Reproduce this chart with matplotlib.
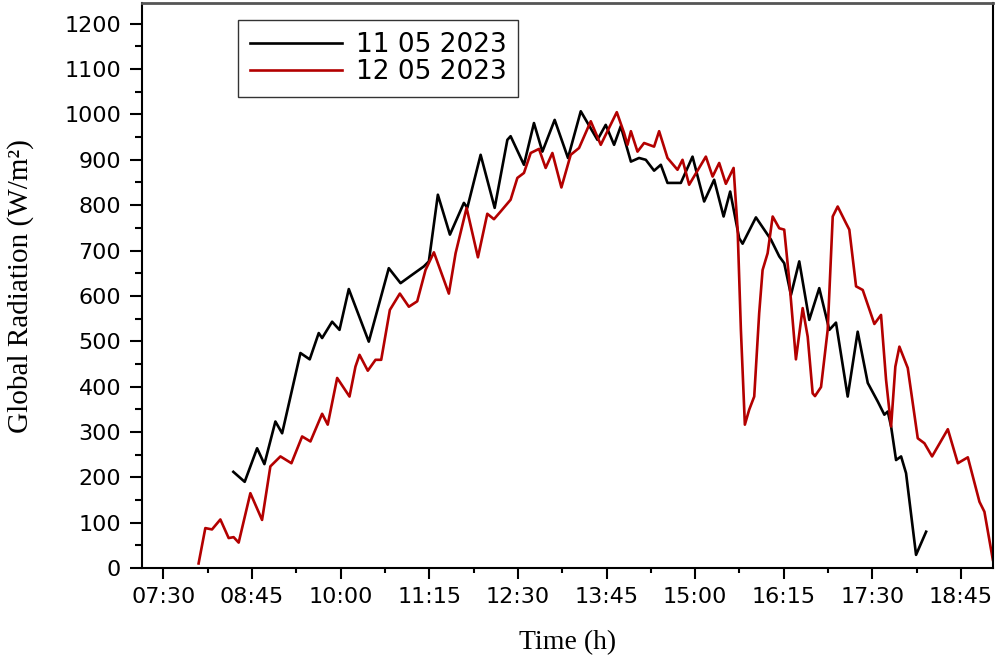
import matplotlib
matplotlib.use("Agg")
import matplotlib.pyplot as plt
from matplotlib.ticker import MultipleLocator

# time of day in decimal hours, radiation in W/m2
hours_11 = [8.488, 8.648, 8.823, 8.926, 9.081, 9.176, 9.434, 9.565, 9.692, 9.740,
            9.881, 9.985, 10.116, 10.398, 10.680, 10.846, 10.987, 11.175, 11.245, 11.372,
            11.542, 11.739, 11.787, 11.975, 12.173, 12.352, 12.398, 12.586, 12.727, 12.846,
            13.019, 13.207, 13.387, 13.622, 13.739, 13.857, 13.951, 14.094, 14.209, 14.304,
            14.421, 14.516, 14.610, 14.798, 14.963, 15.127, 15.268, 15.401, 15.494, 15.621,
            15.669, 15.857, 16.069, 16.186, 16.256, 16.351, 16.468, 16.609, 16.750, 16.892,
            16.986, 17.151, 17.292, 17.434, 17.575, 17.668, 17.716, 17.763, 17.833, 17.904,
            17.974, 18.115, 18.257]
rad_11 = [212, 190, 264, 229, 323, 297, 474, 460, 518, 507,
          543, 525, 615, 499, 661, 628, 644, 665, 676, 823,
          735, 805, 794, 911, 794, 944, 952, 889, 981, 918,
          988, 904, 1007, 944, 977, 933, 974, 896, 904, 900,
          876, 889, 849, 849, 907, 808, 856, 775, 830, 727,
          715, 773, 724, 687, 672, 602, 676, 547, 617, 525,
          541, 378, 521, 408, 367, 338, 345, 312, 238, 246,
          209, 29, 80]

hours_12 = [7.998, 8.093, 8.187, 8.305, 8.422, 8.492, 8.563, 8.728, 8.893, 9.010,
            9.152, 9.307, 9.458, 9.575, 9.740, 9.819, 9.952, 10.126, 10.210, 10.267,
            10.384, 10.493, 10.573, 10.695, 10.836, 10.963, 11.081, 11.198, 11.316, 11.527,
            11.622, 11.777, 11.937, 12.069, 12.163, 12.257, 12.398, 12.493, 12.586, 12.681,
            12.798, 12.892, 12.987, 13.114, 13.245, 13.363, 13.528, 13.669, 13.895, 13.998,
            14.046, 14.094, 14.187, 14.280, 14.421, 14.492, 14.610, 14.751, 14.822, 14.915,
            15.151, 15.246, 15.339, 15.433, 15.542, 15.599, 15.645, 15.701, 15.762, 15.833,
            15.903, 15.951, 16.022, 16.093, 16.186, 16.256, 16.327, 16.421, 16.516, 16.587,
            16.657, 16.690, 16.775, 16.869, 16.940, 17.010, 17.128, 17.174, 17.269, 17.363,
            17.527, 17.621, 17.692, 17.763, 17.823, 17.880, 17.998, 18.139, 18.233, 18.341,
            18.563, 18.704, 18.845, 19.009, 19.079, 19.198]
rad_12 = [10, 88, 85, 107, 66, 68, 56, 165, 106, 224,
          246, 231, 290, 279, 340, 316, 419, 378, 444, 470,
          435, 459, 459, 569, 605, 576, 588, 657, 696, 605,
          694, 794, 685, 781, 769, 786, 812, 860, 871, 915,
          924, 882, 915, 839, 911, 926, 985, 933, 1005, 959,
          933, 963, 918, 937, 929, 963, 904, 878, 900, 845,
          907, 863, 893, 847, 882, 746, 525, 316, 349, 378,
          562, 657, 694, 775, 749, 746, 635, 460, 573, 510,
          385, 379, 399, 525, 775, 797, 760, 746, 621, 613,
          538, 558, 415, 312, 444, 488, 441, 286, 275, 246,
          306, 231, 244, 146, 124, 18]

tick_hours = [7.5, 8.75, 10.0, 11.25, 12.5, 13.75, 15.0, 16.25, 17.5, 18.75]
tick_labels = ["07:30", "08:45", "10:00", "11:15", "12:30", "13:45",
               "15:00", "16:15", "17:30", "18:45"]

fig = plt.figure(figsize=(10, 6.62), dpi=100)
ax = fig.add_axes([0.142, 0.142, 0.851, 0.853])

ax.plot(hours_11, rad_11, color="black", lw=1.9, label="11 05 2023")
ax.plot(hours_12, rad_12, color="#b30000", lw=1.9, label="12 05 2023")

ax.set_xlim(7.2, 19.2)
ax.set_ylim(0, 1245)
ax.set_xticks(tick_hours)
ax.set_xticklabels(tick_labels)
ax.xaxis.set_minor_locator(MultipleLocator(0.625))
ax.yaxis.set_major_locator(MultipleLocator(100))
ax.yaxis.set_minor_locator(MultipleLocator(50))

ax.tick_params(which="both", direction="out", width=1.5, labelsize=16)
ax.tick_params(axis="x", which="major", length=8, pad=6)
ax.tick_params(axis="x", which="minor", length=3.5)
ax.tick_params(axis="y", which="major", length=9, pad=6)
ax.tick_params(axis="y", which="minor", length=5)
for lab in ax.get_xticklabels() + ax.get_yticklabels():
    lab.set_fontfamily("DejaVu Sans")

for side in ["left", "bottom", "right"]:
    ax.spines[side].set_linewidth(1.5)
ax.spines["top"].set_color("#555555")
ax.spines["top"].set_linewidth(2)

ax.set_xlabel("Time (h)", family="Liberation Serif", fontsize=20, labelpad=16)
ax.set_ylabel("Global Radiation (W/m²)", family="Liberation Serif", fontsize=21, labelpad=22)

leg = ax.legend(loc="upper left", bbox_to_anchor=(0.113, 0.97), fancybox=False,
                prop={"family": "DejaVu Sans", "size": 19}, handlelength=3.5,
                borderpad=0.45, labelspacing=0.05, handletextpad=0.5, borderaxespad=0)
leg.get_frame().set_edgecolor("black")
leg.get_frame().set_linewidth(1.0)

fig.savefig("out.png", dpi=100)
